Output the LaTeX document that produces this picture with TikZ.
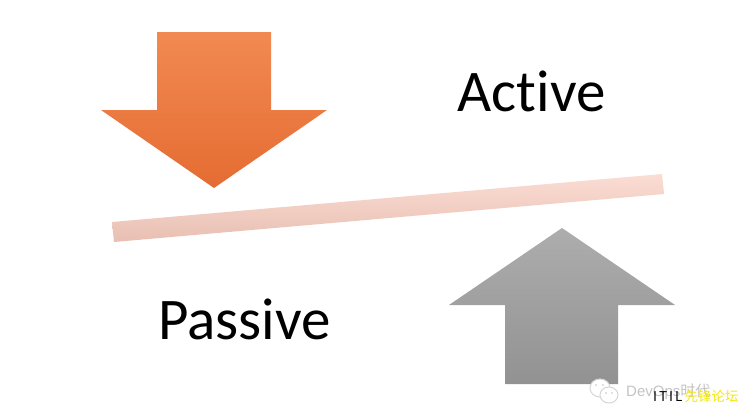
\documentclass[tikz,border=0pt]{standalone}
\usepackage{fontspec}
\setmainfont{Carlito}
\newfontfamily\cjk{Noto Sans CJK SC}
\newfontfamily\wm{Liberation Sans}
\definecolor{orTop}{HTML}{F18A52}
\definecolor{orMid}{HTML}{F17E3A}
\definecolor{orBot}{HTML}{E56C32}
\definecolor{gyTop}{HTML}{ADADAD}
\definecolor{gyBot}{HTML}{929292}
\definecolor{barTop}{HTML}{FBDDD4}
\definecolor{barBot}{HTML}{E8BFB2}
\definecolor{wmGray}{HTML}{C4C4C4}
\tikzset{
  word/.style={font=\fontsize{59}{59}\selectfont,text=black,inner sep=0pt,anchor=base west},
  mark wm/.style={font=\wm\fontsize{15}{15}\selectfont,text=wmGray,inner sep=0pt,anchor=base west},
  mark ad/.style={font=\cjk\fontsize{13.5}{13.5}\selectfont,text=yellow!95!black,inner sep=0pt,anchor=base west},
  icon/.style={draw=wmGray!70,fill=white,line width=1pt}
}
\begin{document}
\begin{tikzpicture}[x=1pt,y=-1pt]
\useasboundingbox[fill=white] (0,0) rectangle (739,407);
% bar
\shade[top color=barTop,bottom color=barBot,shading angle=0]
  (112,222) -- (662,174) -- (664,194) -- (114,242) -- cycle;
% orange arrow
\shade[top color=orTop,middle color=orMid,bottom color=orBot]
  (157,32) -- (271,32) -- (271,110) -- (327,110) -- (214,188) -- (101,110) -- (157,110) -- cycle;
% grey arrow
\shade[top color=gyTop,bottom color=gyBot]
  (562,228) -- (675,305) -- (618,305) -- (618,384) -- (505,384) -- (505,305) -- (449,305) -- cycle;
% labels
\node[word] (active) at (457.5,111) {Act\kern0pt ive};
\node[word] (passive) at (158,339) {Passive};
% watermark
\draw[icon] (600,388) ellipse (10 and 9);
\draw[icon] (609,395) ellipse (9 and 8);
\fill[wmGray] (596,385) circle (0.9) (603,385) circle (0.9) (606,393) circle (0.8) (612,393) circle (0.8);
\node[mark wm] (devops) at (626,396) {DevOps\cjk 时代};
\node[mark ad] (itil) at (653,401) {\textcolor{black}{I\kern2ptT\kern2ptI\kern2ptL\kern2pt}先锋论坛};
\end{tikzpicture}
\end{document}
